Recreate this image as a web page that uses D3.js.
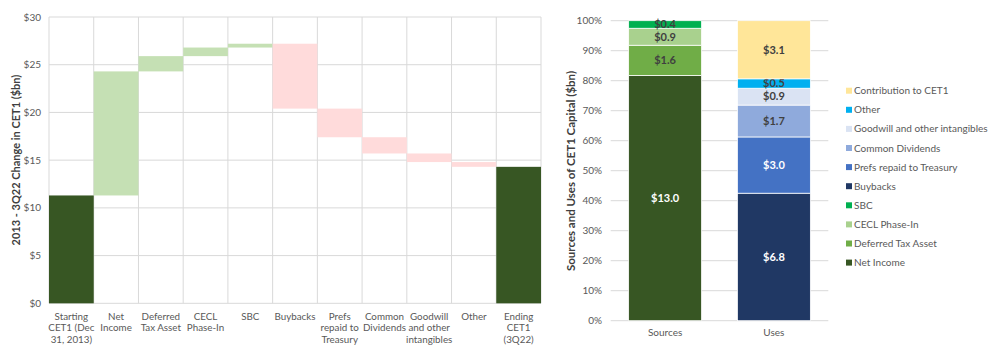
<!DOCTYPE html>
<html><head><meta charset="utf-8">
<script src="https://cdn.jsdelivr.net/npm/d3@7"></script>
<style>
html,body{margin:0;padding:0;background:#fff;}
svg{display:block;font-family:Lato,"Open Sans",sans-serif;}
</style></head><body>
<svg id="c" width="1000" height="359"></svg>
<script>
// ---- Waterfall data ----
const wfCategories = [["Starting","CET1 (Dec","31, 2013)"],["Net","Income"],["Deferred","Tax Asset"],["CECL","Phase-In"],["SBC"],["Buybacks"],["Prefs","repaid to","Treasury"],["Common","Dividends"],["Goodwill","and other","intangibles"],["Other"],["Ending","CET1","(3Q22)"]];
const wfStart = 11.3;
const wfChanges = [13.0, 1.6, 0.9, 0.4, -6.8, -3.0, -1.7, -0.9, -0.5];
const wfEnd = 14.3;
const wfTicks = [0,5,10,15,20,25,30];

// ---- Stacked data ----
const stackCategories = ["Sources","Uses"];
const seriesNames = ["Net Income","Deferred Tax Asset","CECL Phase-In","SBC","Buybacks","Prefs repaid to Treasury","Common Dividends","Goodwill and other intangibles","Other","Contribution to CET1"];
const sourcesValues = [13.0, 1.6, 0.9, 0.4, 0, 0, 0, 0, 0, 0];
const usesValues    = [0, 0, 0, 0, 6.8, 3.0, 1.7, 0.9, 0.5, 3.1];
const seriesColors = ["#375623","#70ad47","#a9d18e","#00b050","#203864","#4472c4","#8faadc","#dae3f3","#00b0f0","#ffe699"];
const seriesLabelColors = ["#ffffff","#404040","#404040","#404040","#ffffff","#ffffff","#404040","#404040","#404040","#404040"];
const pctTicks = [0,10,20,30,40,50,60,70,80,90,100];

const svg = d3.select("#c");
const grid = "#d9d9d9", tickCol = "#595959";

// ===== Waterfall =====
{
  const x = d3.scaleBand().domain(d3.range(wfCategories.length)).range([49,541]).padding(0);
  const y = d3.scaleLinear().domain([0,30]).range([303.3,17]);
  const g = svg.append("g");
  g.selectAll("line.h").data(wfTicks).join("line")
    .attr("x1",49).attr("x2",541).attr("y1",d=>y(d)).attr("y2",d=>y(d))
    .attr("stroke",grid).attr("stroke-width",1);
  const bounds = d3.range(wfCategories.length+1).map(i=> i<wfCategories.length ? x(i) : x(i-1)+x.bandwidth());
  g.selectAll("line.v").data(bounds).join("line")
    .attr("x1",d=>d).attr("x2",d=>d).attr("y1",y(30)).attr("y2",y(0))
    .attr("stroke",grid).attr("stroke-width",1);
  const bars = [];
  bars.push({i:0,y0:0,y1:wfStart,c:"#375623"});
  let run = wfStart;
  wfChanges.forEach((v,k)=>{
    const a = run, b = run+v;
    bars.push({i:k+1,y0:Math.min(a,b),y1:Math.max(a,b),c:v>=0?"#c5e0b4":"#ffdbdb"});
    run = b;
  });
  bars.push({i:wfCategories.length-1,y0:0,y1:wfEnd,c:"#375623"});
  g.selectAll("rect").data(bars).join("rect")
    .attr("x",d=>x(d.i)).attr("width",x.bandwidth())
    .attr("y",d=>y(d.y1)).attr("height",d=>y(d.y0)-y(d.y1))
    .attr("fill",d=>d.c);
  g.selectAll("text.yt").data(wfTicks).join("text")
    .attr("x",41).attr("y",d=>y(d)).attr("dy","0.35em").attr("text-anchor","end")
    .attr("font-size",10).attr("fill",tickCol).text(d=>"$"+d);
  wfCategories.forEach((lines,i)=>{
    const t = g.append("text").attr("text-anchor","middle").attr("font-size",9.8).attr("fill",tickCol);
    lines.forEach((ln,j)=>{
      t.append("tspan").attr("x",x(i)+x.bandwidth()/2).attr("y",320+j*11.3).text(ln);
    });
  });
  g.append("text").attr("transform","translate(20,160) rotate(-90)")
    .attr("text-anchor","middle").attr("font-size",11).attr("font-weight","bold").attr("fill","#404040")
    .text("2013 - 3Q22 Change in CET1 ($bn)");
}

// ===== Stacked 100% =====
{
  const x = d3.scaleBand().domain(stackCategories).range([610.7,828.3]).paddingInner(0.33).paddingOuter(0.165);
  const y = d3.scaleLinear().domain([0,100]).range([320.7,20.7]);
  const g = svg.append("g");
  g.selectAll("line.h").data(pctTicks).join("line")
    .attr("x1",610.7).attr("x2",828.3).attr("y1",d=>y(d)).attr("y2",d=>y(d))
    .attr("stroke",grid).attr("stroke-width",1);
  g.selectAll("text.yt").data(pctTicks).join("text")
    .attr("x",602).attr("y",d=>y(d)).attr("dy","0.35em").attr("text-anchor","end")
    .attr("font-size",10).attr("fill",tickCol).text(d=>d+"%");
  const rows = [sourcesValues, usesValues];
  rows.forEach((vals,ci)=>{
    const total = d3.sum(vals);
    let acc = 0;
    vals.forEach((v,si)=>{
      if(v<=0) return;
      const p0 = acc/total*100, p1 = (acc+v)/total*100;
      acc += v;
      g.append("rect").attr("x",x(stackCategories[ci])).attr("width",x.bandwidth())
        .attr("y",y(p1)).attr("height",y(p0)-y(p1))
        .attr("fill",seriesColors[si]).attr("stroke","#fff").attr("stroke-width",0.75);
      g.append("text").attr("x",x(stackCategories[ci])+x.bandwidth()/2).attr("y",(y(p0)+y(p1))/2)
        .attr("dy","0.35em").attr("text-anchor","middle").attr("font-size",11).attr("font-weight","bold")
        .attr("fill",seriesLabelColors[si]).text("$"+v.toFixed(1));
    });
  });
  g.selectAll("text.xl").data(stackCategories).join("text")
    .attr("x",d=>x(d)+x.bandwidth()/2).attr("y",336).attr("text-anchor","middle")
    .attr("font-size",10).attr("fill",tickCol).text(d=>d);
  g.append("text").attr("transform","translate(575,171) rotate(-90)")
    .attr("text-anchor","middle").attr("font-size",11.5).attr("font-weight","bold").attr("fill","#404040")
    .text("Sources and Uses of CET1 Capital ($bn)");
  const leg = seriesNames.map((n,i)=>({n,c:seriesColors[i]})).reverse();
  leg.forEach((d,k)=>{
    const yy = 90.7 + k*19.1;
    g.append("rect").attr("x",846).attr("y",yy-3).attr("width",6).attr("height",6).attr("fill",d.c);
    g.append("text").attr("x",854).attr("y",yy).attr("dy","0.35em").attr("font-size",10)
      .attr("fill",tickCol).text(d.n);
  });
}
</script>
</body></html>
